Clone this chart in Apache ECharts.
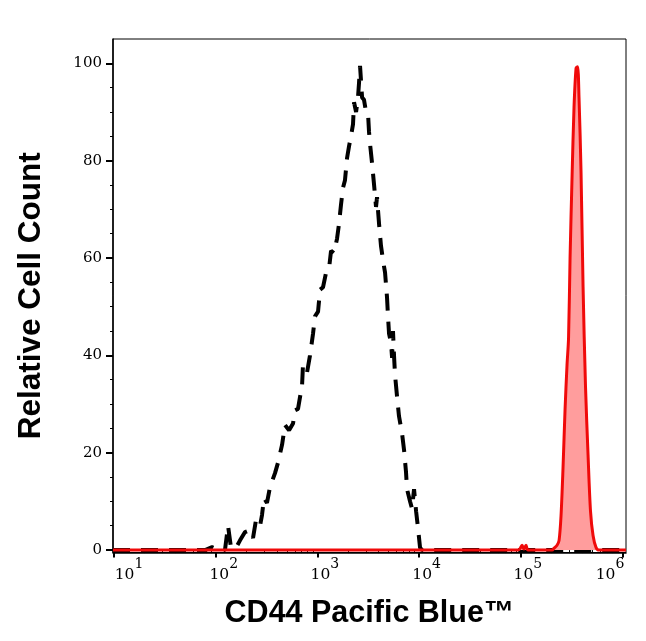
<!DOCTYPE html>
<html>
<head>
<meta charset="utf-8">
<script src="https://cdn.jsdelivr.net/npm/echarts@6/dist/echarts.min.js"></script>
<style>
  html, body { margin: 0; padding: 0; background: #fff; }
  #chart { width: 646px; height: 641px; }
</style>
</head>
<body>
<div id="chart"></div>
<script>
// ---- data (x in log10 of CD44 Pacific Blue intensity, y = relative cell count) ----
const isotypeLogX = [0.990, 1.895, 1.964, 2.023, 2.091, 2.121, 2.150, 2.200, 2.239, 2.288, 2.337, 2.367, 2.396, 2.436, 2.455, 2.475, 2.504, 2.534, 2.583, 2.613, 2.652, 2.681, 2.721, 2.760, 2.780, 2.809, 2.849, 2.858, 2.898, 2.927, 2.957, 2.976, 3.006, 3.026, 3.055, 3.085, 3.115, 3.134, 3.163, 3.193, 3.212, 3.232, 3.252, 3.271, 3.291, 3.311, 3.330, 3.350, 3.360, 3.380, 3.399, 3.409, 3.419, 3.439, 3.458, 3.478, 3.498, 3.507, 3.517, 3.537, 3.557, 3.576, 3.586, 3.606, 3.625, 3.645, 3.665, 3.684, 3.694, 3.704, 3.724, 3.734, 3.743, 3.753, 3.763, 3.783, 3.802, 3.832, 3.852, 3.871, 3.881, 3.911, 3.930, 3.950, 3.970, 3.989, 4.009, 4.028, 6.034];
const isotypeCount = [0, 0, 0.6, 0, 0, 5, 0.5, 0.5, 2, 3.7, 4.1, 2.5, 6.2, 5, 7.2, 10.7, 9.7, 13, 15.8, 18, 21.6, 25.7, 24.6, 26, 28.7, 29, 33.9, 38, 36.5, 40, 44.5, 48, 49, 53.5, 54, 57, 58, 61.5, 61, 64, 67, 71, 74.5, 76, 80.5, 83, 85, 87.5, 92, 90, 93, 96, 99.5, 93, 92.5, 90, 89.5, 86, 83.5, 79.5, 75, 70.5, 72.5, 67, 62.5, 59.5, 57, 52, 48, 44.5, 42.5, 39.5, 45, 40, 36, 31.5, 27.5, 24, 20.5, 16, 12.5, 10, 8.5, 12.5, 8, 4.5, 0.5, 0, 0];

const cd44LogX = [0.990, 4.972, 4.992, 5.012, 5.031, 5.051, 5.071, 5.307, 5.327, 5.356, 5.376, 5.395, 5.415, 5.435, 5.454, 5.469, 5.484, 5.504, 5.523, 5.543, 5.558, 5.572, 5.592, 5.612, 5.636, 5.661, 5.685, 5.710, 5.740, 5.769, 6.034];
const cd44Count = [0, 0, 0.3, 1.0, 0.2, 1.0, 0, 0, 0.4, 1.0, 2, 7, 17, 29, 38, 43.5, 60, 77, 91, 99, 99.3, 93, 77.5, 54, 33.5, 19.5, 8, 3, 0.5, 0, 0];

const xDecades = [1, 2, 3, 4, 5, 6];          // tick labels 10^1 ... 10^6
const yTickValues = [0, 20, 40, 60, 80, 100];  // y tick labels

// ---- derived tick sets ----
const xMinorTicks = [];
xDecades.slice(0, -1).forEach(d => { for (let k = 2; k <= 9; k++) xMinorTicks.push(d + Math.log10(k)); });
const yMinorTicks = [];
for (let v = 5; v <= 100; v += 5) if (v % 20 !== 0) yMinorTicks.push(v);

const pair = (xs, ys) => xs.map((x, i) => [x, ys[i]]);

// label nudges (style): horizontal shift of each decade label relative to its tick
const xLabelShift = {1: 15, 2: 8, 3: 7.5, 4: 7.5, 5: 7, 6: -12.5};
const rich = {
  b: { fontFamily: 'DejaVu Serif', fontSize: 15.5, color: '#000', padding: [10, 0, 0, 0] },
  s: { fontFamily: 'DejaVu Serif', fontSize: 14, color: '#000', padding: [0, 0, 10, 0] }
};
xDecades.forEach(d => {
  const w = Math.abs(xLabelShift[d]) * 2;
  rich['sp' + d] = { width: w, fontSize: 1 };
});
function xLabelFormatter(v) {
  const d = Math.round(v);
  const sp = `{sp${d}| }`;
  const core = `{b|10}{s|${d}}`;
  return xLabelShift[d] >= 0 ? sp + core : core + sp;
}

const XMIN = 0.99, XMAX = 6.034, YMIN = -0.5, YMAX = 105;

const chart = echarts.init(document.getElementById('chart'), null, { renderer: 'canvas' });
chart.setOption({
  animation: false,
  backgroundColor: '#fff',
  grid: { left: 113, right: 20, top: 39, bottom: 88.5, show: true, borderColor: '#000', borderWidth: 1, backgroundColor: 'transparent' },
  xAxis: [
    {
      type: 'value', min: XMIN, max: XMAX, position: 'bottom',
      axisLine: { show: true, onZero: false, lineStyle: { color: '#000', width: 1.5 } },
      axisTick: { show: true, customValues: xDecades, length: 5, lineStyle: { color: '#000', width: 2 } },
      axisLabel: { show: true, customValues: xDecades, formatter: xLabelFormatter, rich: rich, margin: 4, color: '#000' },
      splitLine: { show: false },
      name: 'CD44 Pacific Blue™', nameLocation: 'middle', nameGap: 46,
      nameTextStyle: { fontFamily: 'Liberation Sans', fontWeight: 'bold', fontSize: 30.5, color: '#000' }
    },
    {
      type: 'value', min: XMIN, max: XMAX, position: 'bottom',
      axisLine: { show: false },
      axisTick: { show: true, customValues: xMinorTicks, length: 3, lineStyle: { color: '#000', width: 1 } },
      axisLabel: { show: false },
      splitLine: { show: false }
    }
  ],
  yAxis: [
    {
      type: 'value', min: YMIN, max: YMAX, position: 'left',
      axisLine: { show: true, onZero: false, lineStyle: { color: '#000', width: 1.5 } },
      axisTick: { show: true, customValues: yTickValues, length: 7, lineStyle: { color: '#000', width: 2 } },
      axisLabel: { show: true, customValues: yTickValues, fontFamily: 'DejaVu Serif', fontSize: 15, color: '#000', margin: 11 },
      splitLine: { show: false },
      name: 'Relative Cell Count', nameLocation: 'middle', nameGap: 66, nameRotate: 90,
      nameTextStyle: { fontFamily: 'Liberation Sans', fontWeight: 'bold', fontSize: 31.5, color: '#000' }
    },
    {
      type: 'value', min: YMIN, max: YMAX, position: 'left',
      axisLine: { show: false },
      axisTick: { show: true, customValues: yMinorTicks, length: 3, lineStyle: { color: '#000', width: 1 } },
      axisLabel: { show: false },
      splitLine: { show: false }
    }
  ],
  series: [
    {
      name: 'Isotype', type: 'line', xAxisIndex: 0, yAxisIndex: 0,
      data: pair(isotypeLogX, isotypeCount), showSymbol: false, smooth: false,
      lineStyle: { color: '#000', width: 4, type: [17, 11] }, z: 2
    },
    {
      name: 'CD44', type: 'line', xAxisIndex: 0, yAxisIndex: 0,
      data: pair(cd44LogX, cd44Count), showSymbol: false, smooth: 0.3,
      lineStyle: { color: '#f00a0a', width: 3 },
      areaStyle: { color: '#ff9d9d', opacity: 1, origin: 0 }, z: 3
    }
  ]
});
</script>
</body>
</html>
